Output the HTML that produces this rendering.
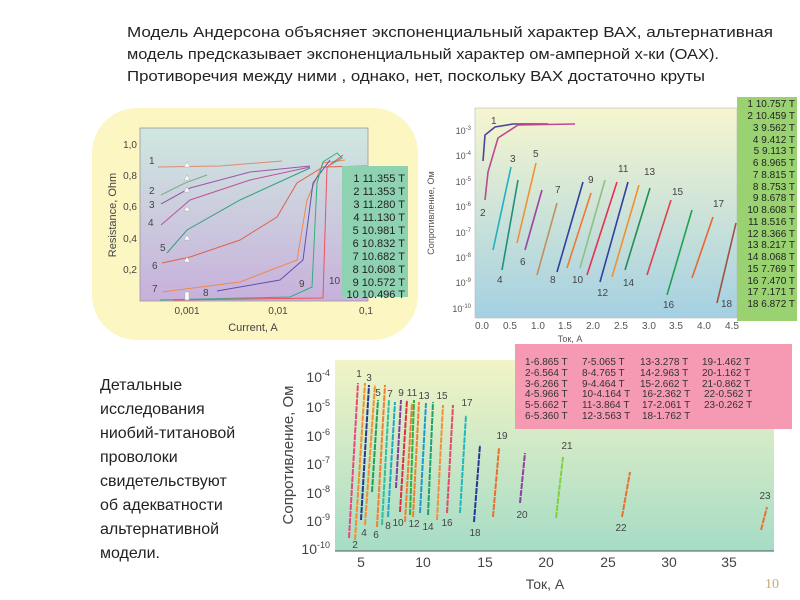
<!DOCTYPE html>
<html><head><meta charset="utf-8"><style>
html,body{margin:0;padding:0;background:#fff;}
svg{display:block;font-family:"Liberation Sans",sans-serif;}
</style></head><body>
<svg width="800" height="600" viewBox="0 0 800 600" xmlns="http://www.w3.org/2000/svg">
<defs>
<linearGradient id="g1" x1="0" y1="0" x2="0" y2="1"><stop offset="0" stop-color="#cfe8e0"/><stop offset="1" stop-color="#c8b0dc"/></linearGradient>
<linearGradient id="g2" x1="0" y1="0" x2="0" y2="1"><stop offset="0" stop-color="#f6f6cf"/><stop offset="1" stop-color="#a4d0e2"/></linearGradient>
<linearGradient id="g3" x1="0" y1="0" x2="0" y2="1"><stop offset="0" stop-color="#f2f4c6"/><stop offset="1" stop-color="#a6dcc6"/></linearGradient>
</defs>
<rect width="800" height="600" fill="#fff"/>
<g font-size="15" fill="#222">
<text x="127" y="37" textLength="646" lengthAdjust="spacingAndGlyphs">Модель Андерсона объясняет  экспоненциальный характер ВАХ,  альтернативная</text>
<text x="127" y="59" textLength="592" lengthAdjust="spacingAndGlyphs">модель предсказывает экспоненциальный характер ом-амперной х-ки (ОАХ).</text>
<text x="127" y="81" textLength="578" lengthAdjust="spacingAndGlyphs">Противоречия между  ними , однако, нет, поскольку ВАХ достаточно круты</text>
</g>
<g font-size="16" fill="#222">
<text x="100" y="390">Детальные</text><text x="100" y="414">исследования</text><text x="100" y="438">ниобий-титановой</text><text x="100" y="462">проволоки</text><text x="100" y="486">свидетельствуют</text><text x="100" y="510">об адекватности</text><text x="100" y="534">альтернативной</text><text x="100" y="558">модели.</text>
</g>
<text x="765" y="588" font-size="14" fill="#c8a878" font-family="Liberation Serif,serif">10</text>

<!-- Chart 1 -->
<rect x="92" y="108" width="326" height="232" rx="45" fill="#fbf6c2"/>
<rect x="140" y="128" width="228" height="173" fill="url(#g1)" stroke="#999" stroke-width="0.8"/>
<g font-size="10" fill="#444" text-anchor="end">
<text x="137" y="148">1,0</text><text x="137" y="179">0,8</text><text x="137" y="210">0,6</text><text x="137" y="242">0,4</text><text x="137" y="273">0,2</text>
</g>
<g font-size="10" fill="#444" text-anchor="middle">
<text x="187" y="314">0,001</text><text x="278" y="314">0,01</text><text x="366" y="314">0,1</text>
<text x="253" y="331" font-size="11">Current, A</text>
</g>
<text transform="translate(116,215) rotate(-90)" font-size="11" fill="#444" text-anchor="middle">Resistance, Ohm</text>
<g fill="none" stroke-width="1">
<path d="M158 167 L220 166 L282 161" stroke="#e08a70"/>
<path d="M161 195 L185 183 L207 175" stroke="#78b088"/>
<path d="M161 204 L190 188 L250 172 L310 166" stroke="#9858a8"/>
<path d="M161 225 L190 200 L250 180 L310 167" stroke="#c050a0"/>
<path d="M167 253 L187 230 L240 200 L310 168" stroke="#30a080"/>
<path d="M162 263 L190 257 L240 240 L277 217 L297 183 L323 167 L367 166" stroke="#e06048"/>
<path d="M162 292 L240 282 L297 260 L307 200 L323 163 L345 160" stroke="#f08850"/>
<path d="M217 291 L280 280 L303 260 L313 183 L330 160" stroke="#6050b0"/>
<path d="M160 300 L290 297 L312 287 L317 183 L323 162 L337 153 L342 158 L330 165" stroke="#30b080"/>
<path d="M173 300 L323 298 L327 167 L343 155" stroke="#f05060"/>
</g>
<g fill="#fff" stroke="#aaa" stroke-width="0.5">
<path d="M187 162 l-3 5 h6z"/><path d="M187 175 l-3 5 h6z"/><path d="M187 187 l-3 5 h6z"/><path d="M187 206 l-3 5 h6z"/><path d="M187 235 l-3 5 h6z"/><path d="M187 257 l-3 5 h6z"/><rect x="185" y="292" width="4" height="8"/>
</g>
<g font-size="10" fill="#444">
<text x="149" y="164">1</text><text x="149" y="194">2</text><text x="149" y="208">3</text><text x="148" y="226">4</text><text x="160" y="251">5</text><text x="152" y="269">6</text><text x="152" y="292">7</text><text x="203" y="296">8</text><text x="299" y="287">9</text><text x="329" y="284">10</text>
</g>
<rect x="342" y="166" width="66" height="131" fill="#8ed2b2"/>
<g font-size="11" fill="#222" text-anchor="end">
<text x="405" y="182">1  11.355 T</text><text x="405" y="195">2  11.353 T</text><text x="405" y="208">3  11.280 T</text><text x="405" y="221">4  11.130 T</text><text x="405" y="234">5  10.981 T</text><text x="405" y="247">6  10.832 T</text><text x="405" y="260">7  10.682 T</text><text x="405" y="273">8  10.608 T</text><text x="405" y="286">9  10.572 T</text><text x="405" y="298">10  10.496 T</text>
</g>

<!-- Chart 2 -->
<rect x="475" y="108" width="262" height="210" fill="url(#g2)" stroke="#bbb" stroke-width="0.6"/>
<g font-size="9" fill="#555" text-anchor="end">
<text x="471" y="134">10<tspan dy="-4" font-size="6">-3</tspan></text>
<text x="471" y="159">10<tspan dy="-4" font-size="6">-4</tspan></text>
<text x="471" y="185">10<tspan dy="-4" font-size="6">-5</tspan></text>
<text x="471" y="210">10<tspan dy="-4" font-size="6">-6</tspan></text>
<text x="471" y="236">10<tspan dy="-4" font-size="6">-7</tspan></text>
<text x="471" y="261">10<tspan dy="-4" font-size="6">-8</tspan></text>
<text x="471" y="286">10<tspan dy="-4" font-size="6">-9</tspan></text>
<text x="471" y="312">10<tspan dy="-4" font-size="6">-10</tspan></text>
</g>
<g font-size="10" fill="#555" text-anchor="middle">
<text x="482" y="329">0.0</text><text x="510" y="329">0.5</text><text x="538" y="329">1.0</text><text x="565" y="329">1.5</text><text x="593" y="329">2.0</text><text x="621" y="329">2.5</text><text x="649" y="329">3.0</text><text x="676" y="329">3.5</text><text x="704" y="329">4.0</text><text x="732" y="329">4.5</text>
<text x="570" y="342" font-size="9">Ток, А</text>
</g>
<text transform="translate(434,213) rotate(-90)" font-size="9" fill="#555" text-anchor="middle">Сопротивление, Ом</text>
<g fill="none" stroke-width="1.6">
<path d="M483 161 L485 135 L495 127 L513 124 L548 124" stroke="#5040a0"/>
<path d="M485 200 L488 172 L498 138 L518 125 L575 124" stroke="#c04890"/>
<path d="M493 250 L511 167" stroke="#20b0c0"/>
<path d="M502 270 L518 180" stroke="#20907a"/>
<path d="M517 243 L536 163" stroke="#f09030"/>
<path d="M525 250 L542 190" stroke="#a040a0"/>
<path d="M537 275 L557 203" stroke="#c09060"/>
<path d="M557 272 L583 182" stroke="#3040a0"/>
<path d="M567 268 L591 193" stroke="#f07830"/>
<path d="M580 268 L605 180" stroke="#90c080"/>
<path d="M587 275 L617 182" stroke="#e83050"/>
<path d="M600 282 L628 182" stroke="#3040a0"/>
<path d="M612 277 L639 185" stroke="#f09030"/>
<path d="M625 270 L650 188" stroke="#209050"/>
<path d="M647 275 L671 200" stroke="#e04050"/>
<path d="M667 295 L692 210" stroke="#20a050"/>
<path d="M692 278 L713 217" stroke="#e86830"/>
<path d="M717 303 L736 223" stroke="#a05040"/>
</g>
<g font-size="10" fill="#444">
<text x="491" y="124">1</text><text x="480" y="216">2</text><text x="510" y="162">3</text><text x="497" y="283">4</text><text x="533" y="157">5</text><text x="520" y="265">6</text><text x="555" y="193">7</text><text x="550" y="283">8</text><text x="588" y="183">9</text><text x="572" y="283">10</text><text x="618" y="172">11</text><text x="597" y="296">12</text><text x="644" y="175">13</text><text x="623" y="286">14</text><text x="672" y="195">15</text><text x="663" y="308">16</text><text x="713" y="207">17</text><text x="721" y="307">18</text>
</g>
<rect x="737" y="97" width="60" height="224" fill="#9ad272"/>
<g font-size="10" fill="#222" text-anchor="end">
<text x="795" y="107">1 10.757 T</text><text x="795" y="119">2 10.459 T</text><text x="795" y="131">3  9.562 T</text><text x="795" y="143">4  9.412 T</text><text x="795" y="154">5  9.113 T</text><text x="795" y="166">6  8.965 T</text><text x="795" y="178">7  8.815 T</text><text x="795" y="190">8  8.753 T</text><text x="795" y="201">9  8.678 T</text><text x="795" y="213">10  8.608 T</text><text x="795" y="225">11  8.516 T</text><text x="795" y="237">12  8.366 T</text><text x="795" y="248">13  8.217 T</text><text x="795" y="260">14  8.068 T</text><text x="795" y="272">15  7.769 T</text><text x="795" y="284">16  7.470 T</text><text x="795" y="295">17  7.171 T</text><text x="795" y="307">18  6.872 T</text>
</g>

<!-- Chart 3 -->
<rect x="335" y="360" width="439" height="191" fill="url(#g3)"/>
<line x1="335" y1="551" x2="774" y2="551" stroke="#555" stroke-width="1"/>
<g font-size="14" fill="#444" text-anchor="end">
<text x="330" y="382">10<tspan dy="-6" font-size="9">-4</tspan></text>
<text x="330" y="412">10<tspan dy="-6" font-size="9">-5</tspan></text>
<text x="330" y="441">10<tspan dy="-6" font-size="9">-6</tspan></text>
<text x="330" y="469">10<tspan dy="-6" font-size="9">-7</tspan></text>
<text x="330" y="498">10<tspan dy="-6" font-size="9">-8</tspan></text>
<text x="330" y="526">10<tspan dy="-6" font-size="9">-9</tspan></text>
<text x="330" y="554">10<tspan dy="-6" font-size="9">-10</tspan></text>
</g>
<g font-size="14" fill="#444" text-anchor="middle">
<text x="361" y="567">5</text><text x="423" y="567">10</text><text x="485" y="567">15</text><text x="546" y="567">20</text><text x="608" y="567">25</text><text x="669" y="567">30</text><text x="729" y="567">35</text>
<text x="545" y="589">Ток, А</text>
</g>
<text transform="translate(293,455) rotate(-90)" font-size="15" fill="#444" text-anchor="middle">Сопротивление, Ом</text>
<g fill="none" stroke-width="2" stroke-dasharray="6 1">
<path d="M349 538 L358 383" stroke="#e84880"/>
<path d="M355 540 L365 383" stroke="#f09030"/>
<path d="M361 520 L369 385" stroke="#283890"/>
<path d="M365 525 L375 385" stroke="#f09030"/>
<path d="M372 492 L378 400" stroke="#20a060"/>
<path d="M377 527 L385 385" stroke="#f08030"/>
<path d="M382 525 L389 400" stroke="#30c0a0"/>
<path d="M388 517 L395 402" stroke="#20a8c8"/>
<path d="M396 488 L401 400" stroke="#8040a0"/>
<path d="M400 512 L407 400" stroke="#e03040"/>
<path d="M405 522 L412 403" stroke="#f08030"/>
<path d="M410 515 L414 400" stroke="#30b040"/>
<path d="M413 517 L419 402" stroke="#f08030"/>
<path d="M420 513 L426 403" stroke="#2098d0"/>
<path d="M428 515 L433 402" stroke="#20a070"/>
<path d="M437 520 L443 405" stroke="#f09040"/>
<path d="M447 513 L453 405" stroke="#e84870"/>
<path d="M460 513 L466 415" stroke="#20b8c0"/>
<path d="M474 522 L480 445" stroke="#283890"/>
<path d="M493 517 L499 448" stroke="#e87030"/>
<path d="M520 503 L525 453" stroke="#9040a0"/>
<path d="M556 518 L563 457" stroke="#80d040"/>
<path d="M622 517 L630 472" stroke="#e87030"/>
<path d="M761 530 L767 507" stroke="#e87030"/>
</g>
<g font-size="10" fill="#444" text-anchor="middle">
<text x="359" y="377">1</text><text x="369" y="381">3</text><text x="378" y="396">5</text><text x="390" y="397">7</text><text x="401" y="396">9</text><text x="412" y="396">11</text><text x="424" y="399">13</text><text x="442" y="399">15</text><text x="467" y="406">17</text><text x="502" y="439">19</text><text x="567" y="449">21</text><text x="765" y="499">23</text>
<text x="355" y="548">2</text><text x="364" y="536">4</text><text x="376" y="538">6</text><text x="388" y="529">8</text><text x="398" y="526">10</text><text x="414" y="527">12</text><text x="428" y="530">14</text><text x="447" y="526">16</text><text x="475" y="536">18</text><text x="522" y="518">20</text><text x="621" y="531">22</text>
</g>
<rect x="515" y="344" width="277" height="85" fill="#f59ab2"/>
<g font-size="10" fill="#333">
<text x="525" y="365">1-6.865 T</text><text x="582" y="365">7-5.065 T</text><text x="640" y="365">13-3.278 T</text><text x="702" y="365">19-1.462 T</text>
<text x="525" y="376">2-6.564 T</text><text x="582" y="376">8-4.765 T</text><text x="640" y="376">14-2.963 T</text><text x="702" y="376">20-1.162 T</text>
<text x="525" y="387">3-6.266 T</text><text x="582" y="387">9-4.464 T</text><text x="640" y="387">15-2.662 T</text><text x="702" y="387">21-0.862 T</text>
<text x="525" y="397">4-5.966 T</text><text x="582" y="397">10-4.164 T</text><text x="642" y="397">16-2.362 T</text><text x="704" y="397">22-0.562 T</text>
<text x="525" y="408">5-5.662 T</text><text x="582" y="408">11-3.864 T</text><text x="642" y="408">17-2.061 T</text><text x="704" y="408">23-0.262 T</text>
<text x="525" y="419">6-5.360 T</text><text x="582" y="419">12-3.563 T</text><text x="642" y="419">18-1.762 T</text>
</g>
</svg>
</body></html>
